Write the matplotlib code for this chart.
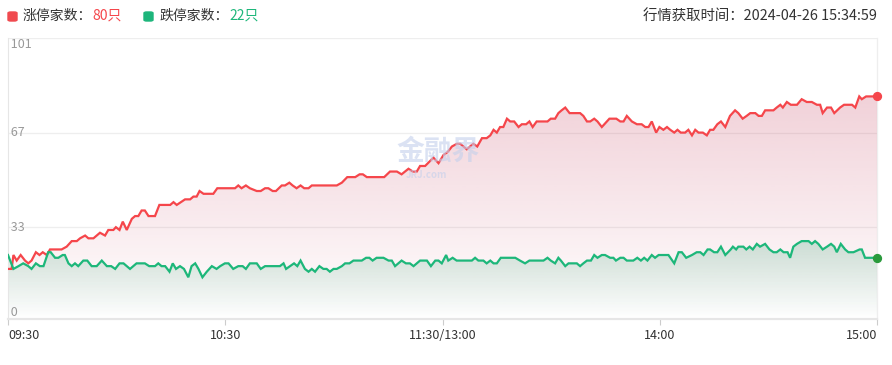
import numpy as np
import matplotlib
matplotlib.use("Agg")
import matplotlib.pyplot as plt
from matplotlib.patches import FancyBboxPatch

plt.rcParams['font.family'] = ['Noto Sans CJK SC', 'DejaVu Sans']

# minutes since 09:30 (lunch break removed, 120 = 11:30/13:00)
red_t = [0.0, 1.0, 1.5, 2.4, 3.5, 4.7, 5.6, 6.5, 7.7, 8.7, 9.6, 10.7, 11.6, 14.8, 16.2, 17.6,
         19.0, 19.9, 21.3, 22.2, 23.6, 25.4, 26.8, 27.7, 29.1, 29.8, 30.8, 31.7, 32.8, 34.2,
         35.1, 36.0, 36.9, 37.8, 38.8, 40.6, 41.8, 44.8, 45.7, 46.6, 48.9, 50.3, 51.2, 52.1,
         52.9, 54.0, 56.7, 57.8, 62.7, 63.6, 64.5, 65.7, 66.8, 68.7, 69.8, 71.0, 71.9, 73.1,
         74.0, 75.6, 76.5, 77.7, 78.6, 79.7, 80.8, 81.8, 83.0, 83.9, 90.8, 92.2, 93.7, 95.9,
         97.1, 98.0, 99.1, 103.9, 105.5, 107.4, 108.7, 110.6, 111.8, 112.9, 113.8, 115.2,
         117.5, 118.9, 120.3, 121.4, 122.6, 124.0, 124.9, 126.7, 128.5, 129.6, 130.9, 132.2,
         133.2, 134.1, 135.0, 135.9, 136.8, 137.8, 138.7, 139.8, 141.0, 141.9, 143.1, 144.0,
         144.9, 146.0, 149.0, 149.9, 151.1, 152.0, 152.9, 153.9, 155.1, 158.0, 158.9, 159.9,
         160.8, 161.9, 162.8, 164.0, 165.4, 166.1, 168.0, 169.1, 170.0, 170.9, 172.3, 173.7,
         175.0, 176.0, 176.9, 177.8, 179.0, 179.9, 181.0, 182.0, 182.9, 184.0, 184.9, 185.8,
         187.0, 187.9, 188.9, 189.8, 190.7, 191.9, 193.0, 193.9, 194.8, 195.9, 196.9, 198.1,
         199.4, 200.8, 201.7, 202.9, 204.0, 205.0, 206.4, 207.3, 208.2, 209.1, 210.5, 211.4,
         212.3, 213.3, 214.0, 215.1, 216.2, 217.9, 219.2, 220.6, 222.0, 223.4, 224.3, 225.0,
         226.2, 227.3, 228.2, 229.8, 230.9, 233.1, 234.0, 235.1, 235.8, 237.0, 240.0]
red_v = [18, 18, 23, 21, 23, 21, 20, 21, 24, 23, 24, 23, 25, 25, 26, 28,
         28, 29, 30, 29, 29, 31, 30, 32, 32, 33, 32, 35, 32, 36,
         37, 37, 39, 39, 37, 37, 41, 41, 42, 41, 43, 43, 44, 44,
         46, 45, 45, 47, 47, 48, 47, 48, 47, 46, 46, 47, 47, 46,
         46, 48, 48, 49, 48, 47, 48, 47, 47, 48, 48, 49, 51, 51,
         52, 52, 51, 51, 53, 53, 52, 54, 53, 53, 55, 55,
         58, 56, 59, 60, 62, 63, 63, 61, 63, 62, 65, 65,
         66, 68, 67, 69, 69, 72, 71, 71, 69, 70, 70, 71,
         69, 71, 71, 72, 72, 74, 75, 76, 74, 74, 73, 71,
         71, 72, 71, 69, 71, 72, 72, 71, 71, 73, 71, 70,
         70, 69, 69, 71, 67, 69, 68, 69, 68, 67, 68, 67,
         67, 68, 66, 68, 67, 67, 66, 68, 68, 70, 71, 69,
         73, 75, 74, 72, 73, 74, 74, 73, 73, 75, 75, 75,
         76, 77, 76, 78, 77, 77, 79, 78, 78, 77, 77, 74,
         76, 76, 74, 76, 77, 77, 76, 80, 79, 80, 80]

green_t = [0.0, 1.5, 2.9, 4.2, 5.6, 6.5, 7.7, 8.8, 9.8, 11.1, 11.8, 13.0, 13.9, 15.1, 15.7,
           16.7, 17.6, 18.5, 19.4, 20.8, 21.9, 23.1, 24.5, 25.9, 27.3, 28.5, 29.6, 30.8, 31.9,
           33.7, 35.5, 37.8, 39.0, 40.6, 41.5, 42.4, 43.4, 44.6, 45.5, 46.4, 47.5, 48.6, 49.8,
           50.7, 51.7, 52.6, 53.7, 54.9, 56.3, 57.6, 58.6, 59.9, 60.9, 62.2, 63.6, 64.8, 65.7,
           66.8, 68.7, 69.8, 71.0, 75.1, 76.1, 76.8, 77.9, 79.0, 79.9, 80.8, 82.0, 83.0, 83.9,
           84.8, 86.0, 87.1, 88.0, 88.9, 89.9, 90.8, 92.2, 93.1, 94.3, 95.4, 97.7, 98.9, 99.8,
           100.7, 101.8, 103.7, 105.1, 106.0, 106.9, 108.7, 109.9, 111.0, 112.0, 113.8, 115.7,
           116.8, 118.0, 118.9, 119.8, 121.0, 121.6, 122.8, 123.9, 128.1, 129.0, 129.9, 131.3,
           132.2, 133.2, 134.1, 135.0, 136.1, 140.1, 141.4, 142.8, 144.0, 147.9, 149.0, 149.9,
           151.1, 152.0, 152.7, 153.9, 154.8, 157.1, 158.0, 158.9, 159.9, 161.0, 161.9, 162.8,
           164.0, 164.9, 166.3, 167.2, 167.9, 169.1, 170.0, 170.9, 172.7, 173.8, 174.8, 175.7,
           176.6, 177.8, 178.7, 179.7, 180.1, 182.4, 184.0, 185.2, 186.1, 187.3, 188.9, 190.2,
           191.2, 192.1, 193.2, 193.9, 195.0, 195.9, 196.9, 198.1, 199.6, 200.2, 201.1, 201.7,
           203.1, 203.9, 204.8, 205.7, 206.8, 207.7, 209.1, 210.3, 211.4, 212.3, 213.3, 214.2,
           215.3, 216.0, 216.9, 217.9, 219.2, 221.1, 222.0, 222.9, 223.8, 225.0, 226.2, 227.3,
           228.2, 228.9, 230.0, 231.2, 232.1, 233.5, 235.2, 235.8, 236.7, 240.0]
green_v = [23, 18, 19, 20, 19, 18, 20, 19, 19, 24, 24, 22, 22, 23, 23,
           20, 19, 20, 19, 21, 21, 19, 19, 21, 19, 19, 18, 20, 20,
           18, 20, 20, 19, 19, 20, 19, 19, 17, 20, 18, 19, 18, 15,
           19, 20, 18, 15, 17, 19, 18, 19, 20, 20, 18, 19, 19, 18,
           20, 20, 18, 19, 19, 20, 18, 19, 20, 19, 21, 18, 17, 18,
           17, 19, 18, 18, 17, 18, 18, 19, 20, 20, 21, 21, 22, 22,
           21, 22, 22, 21, 21, 19, 21, 20, 20, 19, 21, 21,
           19, 21, 21, 20, 23, 21, 22, 21, 21, 22, 21, 21,
           20, 21, 20, 20, 22, 22, 21, 20, 21, 21, 22, 21,
           20, 22, 21, 19, 20, 20, 19, 20, 21, 21, 23, 22,
           23, 23, 22, 22, 21, 22, 22, 21, 21, 22, 21, 22,
           21, 23, 22, 23, 23, 23, 20, 24, 24, 22, 23, 24,
           24, 23, 25, 25, 24, 24, 26, 23, 25, 26, 25, 26,
           26, 25, 26, 25, 27, 26, 27, 25, 24, 24, 25, 24,
           24, 22, 26, 27, 28, 28, 27, 28, 27, 25, 26, 27,
           26, 24, 27, 25, 24, 24, 25, 25, 22, 22]

tick_pos = [0, 60, 120, 180, 240]
tick_lab = ['09:30', '10:30', '11:30/13:00', '14:00', '15:00']
y_ticks = [0, 33, 67, 101]

up_count, down_count = 80, 22
stamp = '2024-04-26 15:34:59'

RED = '#f5464b'
GREEN = '#1db77a'
W, H = 892, 365

fig = plt.figure(figsize=(W / 100, H / 100), dpi=100)
ax = fig.add_axes([8 / W, 1 - 319 / H, (877 - 8) / W, (319 - 38) / H])


def grad_area(ax, x, y, rgb, a_top, z):
    x = np.asarray(x)
    y = np.asarray(y, dtype=float)
    poly, = ax.fill(np.r_[x[0], x, x[-1]], np.r_[0, y, 0], facecolor='none',
                    edgecolor='none', zorder=z)
    img = np.zeros((200, 1, 4))
    img[:, 0, :3] = np.array(rgb) / 255.0
    img[:, 0, 3] = np.linspace(0.0, a_top, 200)
    im = ax.imshow(img, aspect='auto', origin='lower', zorder=z,
                   extent=[x[0], x[-1], 0, y.max()], interpolation='bilinear')
    im.set_clip_path(poly)


grad_area(ax, red_t, red_v, (203, 79, 107), 0.26, 1)
grad_area(ax, green_t, green_v, (20, 150, 95), 0.20, 2)

ax.plot(red_t, red_v, color=RED, lw=1.6, zorder=4, solid_joinstyle='miter')
ax.plot(green_t, green_v, color=GREEN, lw=1.6, zorder=4, solid_joinstyle='miter')
ax.scatter([red_t[-1]], [red_v[-1]], s=32, color=RED, zorder=5, clip_on=False)
ax.scatter([green_t[-1]], [green_v[-1]], s=32, color='#2a9a3c', zorder=5, clip_on=False)

for v in y_ticks[1:]:
    ax.axhline(v, color='#eeeeee', lw=0.9, zorder=0)

ax.set_xlim(0, 240)
ax.set_ylim(0, 101)
ax.set_yticks([])
ax.set_xticks(tick_pos)
ax.set_xticklabels([])
ax.tick_params(axis='x', length=4, color='#cccccc', width=0.8)
for s in ['top', 'right']:
    ax.spines[s].set_visible(False)
ax.spines['left'].set_color('#e6e6e6')
ax.spines['bottom'].set_color('#e6e6e6')
ax.spines['bottom'].set_linewidth(1.6)
ax.plot([240, 240], [0, 101], color='#eeeeee', lw=0.9, zorder=0, clip_on=False)

# y labels drawn inside the plot area
trans = ax.get_yaxis_transform()
ax.text(0.0, 101, ' 101', transform=trans, ha='left', va='top', fontsize=9, color='#999999')
ax.text(0.0, 67, ' 67', transform=trans, ha='left', va='center', fontsize=9, color='#999999')
ax.text(0.0, 33, ' 33', transform=trans, ha='left', va='center', fontsize=9, color='#999999')
ax.text(0.0, 0, ' 0', transform=trans, ha='left', va='bottom', fontsize=9, color='#999999')

# x labels
xtr = ax.get_xaxis_transform()
for i, (p, lab) in enumerate(zip(tick_pos, tick_lab)):
    ha = 'left' if i == 0 else ('right' if i == len(tick_pos) - 1 else 'center')
    ax.text(p, -0.035, lab, transform=xtr, ha=ha, va='top', fontsize=9, color='#333333')

# watermark
fig.text(438 / W, 1 - 152 / H, '金融界', ha='center', va='center', fontsize=20,
         fontweight='bold', color='#c4d0ec', alpha=0.6, zorder=3)
fig.text(426 / W, 1 - 175 / H, 'JRJ.com', ha='center', va='center', fontsize=7,
         fontweight='bold', color='#c4d0ec', alpha=0.6, zorder=3)

# header
fig.patches.append(FancyBboxPatch((8 / W, 1 - 21 / H), 9 / W, 9 / H, boxstyle='round,pad=0,rounding_size=0.003',
                                  transform=fig.transFigure, color='#f04a4f'))
fig.patches.append(FancyBboxPatch((144 / W, 1 - 21 / H), 9 / W, 9 / H, boxstyle='round,pad=0,rounding_size=0.003',
                                  transform=fig.transFigure, color='#1db57b'))
hy = 1 - 16 / H
fig.text(23 / W, hy, '涨停家数：', ha='left', va='center', fontsize=10, color='#333333')
fig.text(92 / W, hy, f'{up_count}只', ha='left', va='center', fontsize=10, color=RED)
fig.text(160 / W, hy, '跌停家数：', ha='left', va='center', fontsize=10, color='#333333')
fig.text(229 / W, hy, f'{down_count}只', ha='left', va='center', fontsize=10, color=GREEN)
fig.text(877 / W, hy, '行情获取时间：' + stamp, ha='right', va='center', fontsize=10.4, color='#333333')

fig.savefig('out.png', dpi=100)
